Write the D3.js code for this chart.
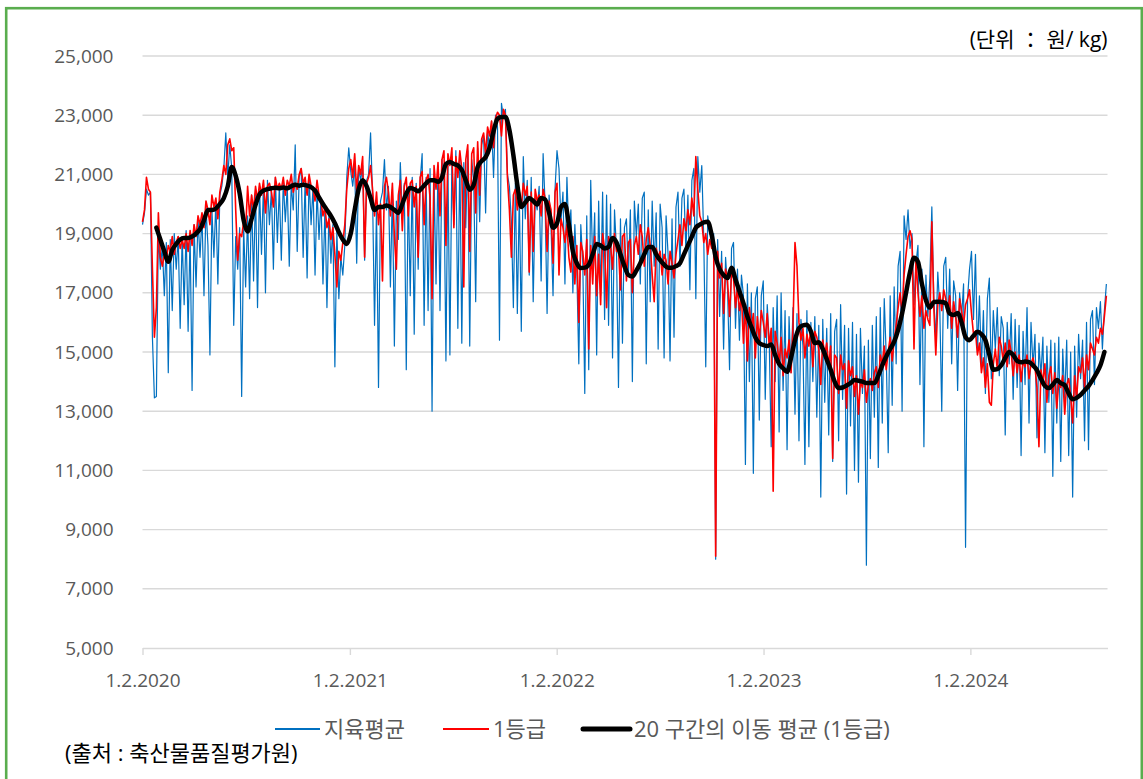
<!DOCTYPE html>
<html lang="ko">
<head>
<meta charset="utf-8">
<title>돼지 지육 경락가격</title>
<script src="https://cdn.jsdelivr.net/npm/d3@7"></script>
<style>
  html, body { margin: 0; padding: 0; background: #fff; }
  svg { display: block; }
  text { font-family: "Open Sans", "Noto Sans CJK KR", sans-serif; }
</style>
</head>
<body>
<div id="chart"></div>
<script>
// 표시 기간과 점 간격 (반 주 = 84시간)
var START = Date.UTC(2020, 0, 2);
var END = Date.UTC(2024, 7, 31);
var STEP_H = 84;
var MA_OFFSET_H = 588;   // 이동평균 첫 점 (24.5일 뒤)
var MA_STEP_H = 168;     // 이동평균 간격 (1주)

var xTickDates = ['2020-01-02', '2021-01-02', '2022-01-02', '2023-01-02', '2024-01-02'];
var yTicks = [5000, 7000, 9000, 11000, 13000, 15000, 17000, 19000, 21000, 23000, 25000];

// 지육평균 (원/kg)
var avg20 = [19300, 19700, 20500, 20300, 20400, 15500, 13450, 13500, 19000, 17800,
  18600, 16900, 18700, 14300, 18800, 16400, 19000, 17800, 18900, 15800,
  18900, 16600, 19100, 15700, 19000, 13700, 19300, 17200, 19500, 18200,
  19600, 16900, 19900, 18600, 14900, 19800, 18200, 20100, 17300, 20300,
  20600, 21200, 22400, 20900, 22000, 21200, 15900, 18900, 17800, 19200,
  13500, 19200, 17200, 19600, 16800, 20300, 17400, 20500, 16500, 20600,
  18300, 20700, 17000, 20800, 19300, 20500, 17800, 20900, 18700, 20600,
  18100, 20800, 19400, 20600, 17900, 20700, 19800, 22000, 18400, 20900,
  21200, 18200, 20800, 17500, 20900, 19300, 20600, 17600, 20500, 18800,
  20200, 17300, 19900, 16500, 19700, 18000, 19300, 14500, 19100, 16800];
var avg21 = [18200, 17600, 18600, 20900, 21900, 21100, 20600, 21300, 18000, 21200,
  20800, 21300, 18100, 20800, 21000, 22400, 20300, 15900, 19900, 13800,
  20100, 20400, 21500, 19800, 20600, 17200, 20500, 15200, 20100, 18800,
  21400, 19600, 20700, 14400, 20600, 16900, 20900, 15600, 20700, 17800,
  20800, 21700, 15900, 20900, 16400, 21200, 13000, 21000, 17300, 21300,
  16400, 21500, 20800, 14700, 21400, 14900, 21600, 19300, 21800, 15800,
  21700, 15300, 21400, 19200, 21800, 15200, 21500, 20800, 16700, 21900,
  19400, 22000, 22300, 19700, 22500, 21800, 22800, 20900, 23000, 22600,
  15400, 23400, 22900, 23200, 21000, 20600, 19400, 16500, 20700, 16300,
  20300, 15700, 21600, 19500, 20800, 17600, 20900, 16700, 20200, 19800];
var avg22 = [20600, 17400, 21700, 20000, 16300, 20300, 19200, 16900, 20500, 21800,
  21200, 19400, 20400, 17300, 20900, 18900, 19800, 17000, 19300, 17700,
  14600, 19300, 18000, 13600, 19600, 14400, 20800, 17900, 19700, 14900,
  20100, 16900, 20400, 16100, 20300, 15900, 20000, 14800, 19800, 18400,
  13800, 19500, 15300, 19200, 19500, 17600, 19800, 14000, 20100, 18900,
  20000, 17300, 20200, 20400, 14600, 19800, 16700, 20100, 17900, 19700,
  15100, 20000, 19200, 14800, 19600, 18300, 14700, 19500, 15500, 19900,
  20400, 17900, 20200, 20500, 18400, 20300, 17100, 20800, 21200, 16800,
  21600, 20400, 21300, 18800, 14500, 19600, 19000, 18900, 19000, 8000,
  18800, 16200, 18400, 15100, 18200, 17100, 14400, 18500, 18700, 15800];
var avg23 = [17800, 15400, 17600, 16900, 11200, 17300, 14000, 17000, 10900, 16800,
  17200, 12700, 16900, 17400, 13400, 16600, 15400, 11800, 16500, 14000,
  16900, 12300, 17000, 13700, 16400, 11700, 16200, 14300, 16500, 12900,
  16300, 12000, 16100, 15200, 11200, 16400, 11800, 16000, 14000, 16200,
  12800, 15900, 10100, 16100, 13300, 15800, 12200, 16300, 11300, 15700,
  16100, 12000, 16600, 13400, 15900, 10200, 15800, 12500, 16000, 11000,
  15600, 10600, 15800, 13600, 15200, 7800, 15400, 11400, 15900, 12800,
  16200, 11100, 16500, 12600, 16800, 14900, 11600, 16900, 13200, 17200,
  14600, 17900, 18400, 13000, 19600, 18800, 19800, 18500, 19000, 16600,
  18000, 18600, 13900, 17800, 11800, 17600, 16200, 17500, 19900, 16800];
var avg24 = [15400, 17700, 16500, 13000, 17900, 18200, 15800, 17800, 14600, 17400,
  16900, 13700, 17000, 16200, 17300, 8400, 16800, 17800, 18400, 16100,
  18300, 15000, 16900, 14500, 16400, 13600, 16800, 17500, 14100, 16400,
  15100, 16500, 14200, 16200, 15800, 12200, 16000, 14600, 16300, 13400,
  16100, 13800, 15900, 11500, 15700, 13900, 16500, 12600, 16000, 14500,
  15600, 12100, 15300, 14200, 15500, 11600, 15200, 13300, 15400, 10800,
  15300, 12600, 15500, 11300, 15100, 13400, 15400, 11500, 15000, 10100,
  15200, 12800, 15600, 14100, 15400, 12000, 16000, 11700, 16100, 16400,
  13900, 16500, 15800, 16700, 15100, 16400, 17300];

// 1등급 (원/kg)
var grade20 = [19400, 19800, 20900, 20500, 20400, 17800, 15500, 16500, 19700, 18200,
  17900, 18300, 18100, 18600, 18400, 18900, 18300, 18700, 18900, 18500,
  18800, 18500, 19000, 18400, 19100, 18600, 19300, 18900, 19600, 19300,
  19700, 19200, 20100, 19800, 19300, 20300, 19900, 20200, 19500, 20400,
  20800, 21300, 21000, 22000, 22200, 21800, 21900, 19800, 18100, 19000,
  18900, 19400, 19100, 20600, 19600, 20300, 19800, 20600, 20100, 20700,
  20300, 20800, 19700, 20600, 20700, 20400, 19900, 20900, 20500, 20700,
  20500, 20900, 20300, 20800, 20600, 21000, 20400, 20700, 20500, 21000,
  21200, 20700, 20900, 20300, 21000, 20600, 20500, 20100, 20800, 20300,
  20100, 19600, 19900, 19200, 19500, 18800, 19200, 18300, 17200, 18400];
var grade21 = [18100, 18700, 19300, 20500, 21200, 21500, 20900, 21700, 20400, 21300,
  21000, 21600, 18200, 20700, 20900, 21300, 20500, 19600, 20400, 19300,
  20000, 17400, 20600, 20900, 20400, 19600, 20700, 18900, 17800, 20300,
  20800, 19100, 20600, 20900, 19600, 20700, 20800, 19900, 20600, 18200,
  20900, 21100, 19300, 20800, 21000, 20200, 16800, 21300, 20500, 21400,
  19600, 21500, 21800, 18600, 21700, 21300, 21900, 19200, 21600, 20900,
  21800, 21200, 17200, 21500, 22000, 18400, 21700, 21900, 19700, 22100,
  20300, 22200, 22400, 21700, 22600, 22300, 22800, 21900, 22900, 23100,
  23000, 22300, 23200, 23000, 20900, 19800, 18200, 20300, 20500, 19800,
  20400, 19900, 20700, 20300, 20600, 17700, 20400, 18400, 20500, 20100];
var grade22 = [20300, 19600, 20500, 20200, 18400, 20100, 19800, 18000, 20400, 20700,
  17600, 19500, 19200, 18700, 19300, 18200, 17700, 18900, 17300, 18600,
  16000, 18700, 18400, 17600, 18800, 15100, 18600, 17300, 18900, 16900,
  18300, 16600, 19000, 18500, 16500, 18900, 18600, 17800, 19000, 18400,
  18500, 17100, 18900, 19000, 17400, 18700, 18800, 17000, 18600, 18900,
  18300, 19300, 18900, 17900, 18800, 19200, 18600, 17600, 16700, 18500,
  18200, 18400, 17600, 18300, 18100, 17300, 18400, 18000, 17500, 18300,
  18800, 19300, 18600, 19500, 19100, 19800, 19300, 20200, 19600, 21600,
  20500, 19600, 19400, 18700, 19000, 18300, 18800, 18500, 18600, 8100,
  18400, 17500, 18000, 16300, 17800, 17400, 16200, 17700, 17500, 16500];
var grade23 = [17200, 16400, 16900, 15300, 16600, 14700, 16500, 15800, 16300, 14800,
  16200, 15400, 16400, 16000, 15500, 16300, 15200, 15800, 10300, 15700,
  15300, 14600, 15500, 14200, 15100, 14800, 15400, 14300, 15900, 18700,
  17900, 16000, 15400, 15800, 14800, 15600, 15200, 15800, 14500, 15700,
  15500, 15100, 13900, 15400, 14900, 15300, 14500, 15200, 11400, 14900,
  14800, 13600, 14900, 14400, 14600, 13100, 14700, 14200, 14500, 13500,
  14200, 12900, 14000, 13800, 14400, 13300, 13900, 14100, 13700, 14300,
  14500, 13800, 14900, 14600, 15200, 14400, 15000, 15500, 14700, 15400,
  15900, 16500, 17000, 16300, 17600, 18300, 18900, 19100, 18800, 15100,
  18200, 17000, 16200, 16900, 15800, 16400, 16100, 15900, 19400, 16500];
var grade24 = [14900, 16600, 17000, 16400, 17100, 16800, 16300, 16900, 15800, 16700,
  16200, 15500, 16800, 16400, 15900, 16600, 16800, 17100, 16300, 15600,
  15700, 14900, 15300, 14300, 14800, 13800, 14600, 13300, 13200, 14600,
  15100, 14400, 15500, 15200, 14700, 15300, 14500, 15400, 15000, 14200,
  15000, 14300, 14900, 14000, 14700, 14500, 14900, 14100, 14600, 14800,
  14500, 13800, 11800, 14400, 14000, 14600, 13300, 14200, 14500, 13600,
  14300, 13100, 14000, 13800, 14200, 12900, 13900, 14100, 13500, 12600,
  14200, 13400, 14500, 14300, 14800, 13800, 14900, 14400, 15300, 15100,
  14900, 15500, 15300, 15800, 15600, 16200, 16900];

// 20 구간의 이동 평균 (1등급)
var ma1 = [19200, 18800, 18400, 18050, 18450, 18650, 18800, 18850, 18850, 18900,
  19000, 19150, 19450, 19800, 19800, 19850, 20000, 20200, 20600, 21250,
  20950, 20350, 19450, 19070, 19500, 19970, 20330, 20450, 20500, 20530,
  20550, 20530, 20560, 20530, 20600, 20650, 20620, 20650, 20620, 20570,
  20450, 20220, 20000, 19800, 19600, 19350, 19050, 18800, 18650, 19000,
  19800, 20500, 20800, 20600, 20200, 19800, 19900, 19900, 19950, 19900,
  19800, 19700, 20000, 20350, 20540, 20500, 20430, 20550, 20700, 20800,
  20800, 20750, 20900, 21350, 21420, 21350, 21300, 21150, 20800, 20480];
var ma2 = [20650, 21250, 21450, 21580, 21900, 22450, 22880, 22940, 22940, 22500,
  21650, 20640, 19900, 20050, 20200, 20100, 19980, 20200, 20150, 19700,
  19200, 19350, 19900, 20000, 19300, 18400, 18000, 17840, 17850, 17950,
  18300, 18650, 18600, 18500, 18550, 18850, 18700, 18300, 17900, 17600,
  17550, 17750, 18000, 18300, 18550, 18550, 18300, 18100, 17950, 17850,
  17850, 17900, 18000, 18300, 18600, 18900, 19200, 19300, 19380, 19400,
  18950, 18200, 17800, 17600, 17500, 17850, 17450, 17050, 16650, 16200,
  15850, 15500, 15300, 15240, 15200, 15250, 14900, 14600, 14450, 14330];
var ma3 = [14800, 15400, 15800, 15900, 15920, 15700, 15300, 15330, 15100, 14750,
  14400, 14000, 13780, 13800, 13870, 13950, 14050, 14030, 14000, 13950,
  13950, 13950, 14200, 14550, 14850, 15100, 15350, 15750, 16300, 17000,
  17700, 18180, 18050, 17300, 16750, 16500, 16690, 16700, 16690, 16650,
  16300, 16250, 16320, 16000, 15500, 15400, 15550, 15680, 15600, 15400,
  14900, 14400, 14420, 14550, 14800, 15000, 14900, 14700, 14650, 14680,
  14660, 14550, 14390, 14100, 13850, 13780, 13900, 14050, 13950, 13880,
  13600, 13400, 13450, 13550, 13700, 13850, 14050, 14280, 14550, 15000];

(function () {
  'use strict';

  var W = 1143, H = 779;
  var x0 = 142.5, x1 = 1107.5, yTop = 56, yBot = 648;
  var BLUE = '#0070C0', RED = '#FF0000', INK = '#595959';

  var svg = d3.select('#chart').append('svg')
    .attr('width', W).attr('height', H)
    .style('background', '#fff');

  var x = d3.scaleUtc().domain([new Date(START), new Date(END)]).range([x0, x1]);
  var y = d3.scaleLinear().domain([5000, 25000]).range([yBot, yTop]);

  function series(vals, offsetH, stepH) {
    return vals.map(function (v, i) {
      return { date: new Date(START + (offsetH + i * stepH) * 3600e3), v: v };
    });
  }
  var avgPts = series([].concat(avg20, avg21, avg22, avg23, avg24), 0, STEP_H);
  var gradePts = series([].concat(grade20, grade21, grade22, grade23, grade24), 0, STEP_H);
  var maPts = series([].concat(ma1, ma2, ma3), MA_OFFSET_H, MA_STEP_H);

  // 그리드
  svg.append('g').selectAll('line').data(yTicks.slice(1)).enter().append('line')
    .attr('x1', x0).attr('x2', x1)
    .attr('y1', function (d) { return y(d); }).attr('y2', function (d) { return y(d); })
    .attr('stroke', '#d9d9d9').attr('stroke-width', 1.4);

  // y축
  var gy = svg.append('g').attr('transform', 'translate(' + x0 + ',0)')
    .call(d3.axisLeft(y).tickValues(yTicks).tickFormat(d3.format(','))
      .tickSize(0).tickPadding(29));
  gy.select('.domain').remove();
  gy.selectAll('text').attr('font-size', 19).attr('fill', INK)
    .style('font-family', '"Open Sans", sans-serif');

  // x축
  var parse = d3.utcParse('%Y-%m-%d');
  var gx = svg.append('g').attr('transform', 'translate(0,' + yBot + ')')
    .call(d3.axisBottom(x).tickValues(xTickDates.map(parse))
      .tickFormat(d3.utcFormat('%-m.%-d.%Y')).tickSize(7).tickSizeOuter(0).tickPadding(19));
  gx.select('.domain').attr('stroke', '#d9d9d9').attr('stroke-width', 1.4);
  gx.selectAll('.tick line').attr('stroke', '#d9d9d9').attr('stroke-width', 1.4);
  gx.selectAll('text').attr('font-size', 19).attr('fill', INK)
    .style('font-family', '"Open Sans", sans-serif');

  // 선
  var line = d3.line()
    .x(function (d) { return x(d.date); })
    .y(function (d) { return y(d.v); });

  svg.append('path').datum(avgPts).attr('d', line)
    .attr('fill', 'none').attr('stroke', BLUE).attr('stroke-width', 1.2)
    .attr('stroke-linejoin', 'round');
  svg.append('path').datum(gradePts).attr('d', line)
    .attr('fill', 'none').attr('stroke', RED).attr('stroke-width', 1.6)
    .attr('stroke-linejoin', 'round');
  svg.append('path').datum(maPts).attr('d', line.curve(d3.curveMonotoneX))
    .attr('fill', 'none').attr('stroke', '#000').attr('stroke-width', 4.5)
    .attr('stroke-linejoin', 'round').attr('stroke-linecap', 'round');

  // 단위
  svg.append('text').attr('x', x1).attr('y', 40).attr('dy', '0.35em')
    .attr('text-anchor', 'end').attr('font-size', 21).attr('fill', '#000')
    .text('(단위 ： 원/ kg)');

  // 범례
  var LEG = [['지육평균', BLUE, 2, 275, 320], ['1등급', RED, 2, 443, 489],
             ['20 구간의 이동 평균 (1등급)', '#000', 5, 583, 630]];
  LEG.forEach(function (L) {
    svg.append('line').attr('x1', L[3]).attr('x2', L[4]).attr('y1', 729).attr('y2', 729)
      .attr('stroke', L[1]).attr('stroke-width', L[2]).attr('stroke-linecap', L[2] > 3 ? 'round' : 'butt');
    svg.append('text').attr('x', L[4] + 4).attr('y', 729).attr('dy', '0.35em')
      .attr('font-size', 22).attr('fill', INK).text(L[0]);
  });

  // 출처
  svg.append('text').attr('x', 65).attr('y', 753).attr('dy', '0.35em')
    .attr('font-size', 22).attr('fill', '#000').text('(출처 : 축산물품질평가원)');

  // 테두리
  svg.append('rect').attr('x', 6.2).attr('y', 8.2).attr('width', 1135.6).attr('height', 800)
    .attr('fill', 'none').attr('stroke', '#5aad4e').attr('stroke-width', 2.6);
})();
</script>
</body>
</html>
